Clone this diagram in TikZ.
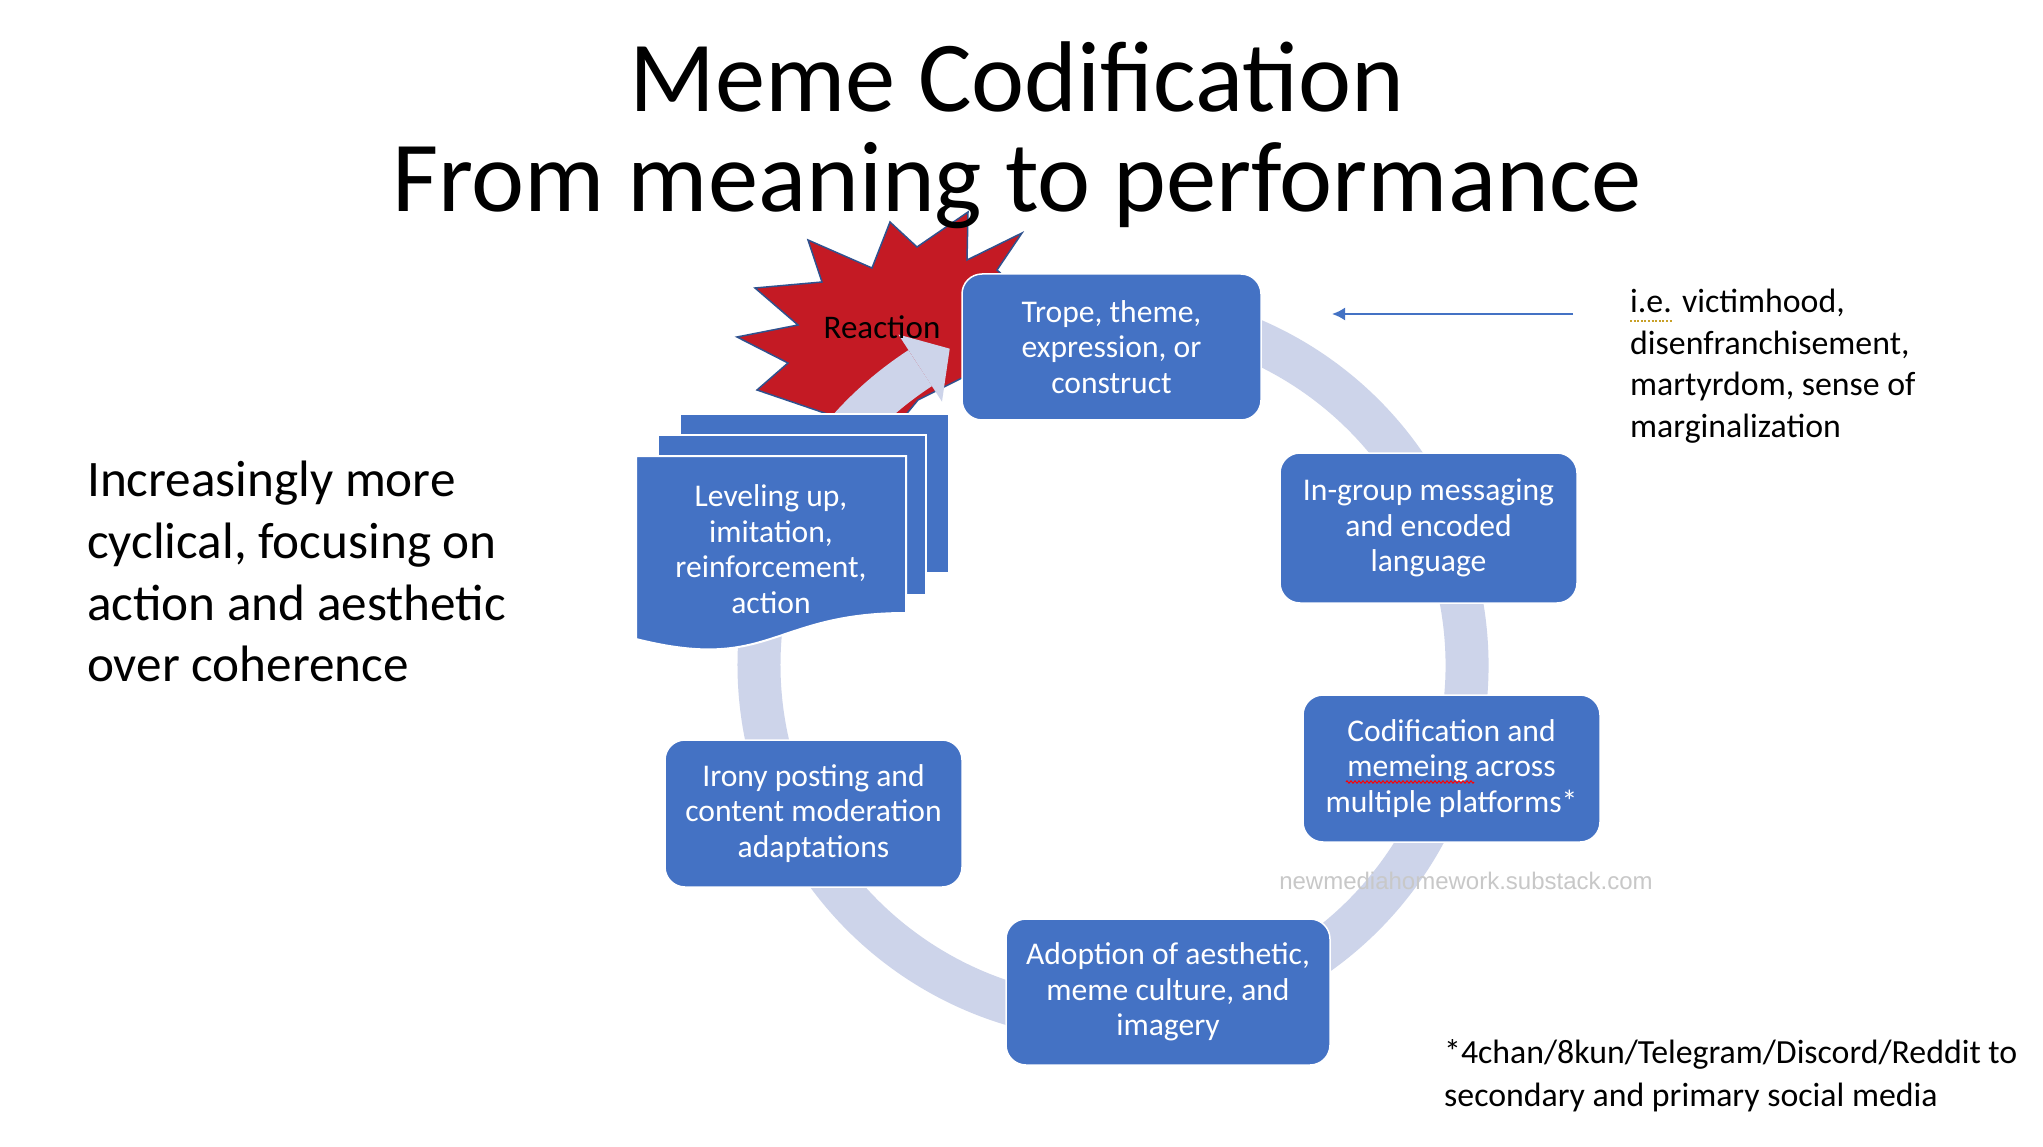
\documentclass[tikz,border=0pt]{standalone}
\usepackage{fontspec}
\setmainfont{Carlito}
\newfontfamily\creditfont{Liberation Sans}
\usepackage{xcolor}
\usetikzlibrary{arrows.meta, positioning, decorations.pathmorphing}

\definecolor{boxblue}{RGB}{68,114,196}
\definecolor{ringblue}{RGB}{205,212,234}
\definecolor{burstred}{RGB}{196,26,36}
\definecolor{burstline}{RGB}{47,82,143}
\definecolor{creditgray}{RGB}{200,200,200}
\definecolor{spellgold}{RGB}{200,160,40}

\begin{document}
\begin{tikzpicture}[
    x=1pt, y=-1pt,
    boxtext/.style={align=center, text=white, inner sep=0pt, font=\fontsize{31.6}{35.5}\selectfont},
    box/.style={boxtext, rectangle, draw=white, line width=1.5pt, fill=boxblue, rounded corners=20pt, minimum width=297pt, minimum height=147pt},
    page/.style={fill=boxblue, draw=white, line width=2pt},
    heading/.style={inner sep=0pt, font=\fontsize{100.5}{100}\selectfont},
    sidetext/.style={align=left, inner sep=0pt, anchor=north west, font=\fontsize{33.8}{42}\selectfont},
    ring/.style={draw=ringblue, line width=43pt},
    line/.style={draw=boxblue, line width=2pt, -{Latex[length=13pt,width=13pt]}}
]
    \fill[white] (0,0) rectangle (2043,1147);
    \useasboundingbox (0,0) rectangle (2043,1147);

    % Reaction burst
    \filldraw[fill=burstred, draw=burstline, line width=1.5pt]
        (737,337) -- (798,325) -- (755,288) -- (822,282) -- (808,240) -- (872,268)
        -- (890,222) -- (917,247) -- (968,212) -- (967,260) -- (1022,233) -- (997,270)
        -- (1030,300) -- (990,345) -- (1000,380) -- (962,378) -- (918,400) -- (885,440)
        -- (845,420) -- (757,390) -- (788,363) -- cycle;

    % Cycle ring
    \coordinate (hub) at (1113,665);
    \draw[ring, shift={(hub)}] (-100:354) arc[start angle=-100, end angle=237, radius=354];
    \fill[ringblue, shift={(hub)}] (-123:394) -- (-117.3:356) -- (-123:314) -- cycle;

    % Leveling stack
    \path[page] (680,414) rectangle (949,573);
    \path[page] (658,435) rectangle (926,595);
    \path[page] (636,456) -- (906,456) -- (906,613) .. controls (771,613) and (771,673) .. (636,639) -- cycle;

    % Nodes
    \node (reaction) [font=\fontsize{33}{40}\selectfont, inner sep=0pt] at (882,327) {Reaction};
    \node (trope) [box, minimum width=299pt, minimum height=146pt] at (1111.5,347) {Trope, theme,\\expression, or\\construct};
    \node (ingroup) [box, minimum height=150pt] at (1428.5,528) {In-group messaging\\and encoded\\language};
    \node (codify) [box] at (1451.5,768.5) {Codification and\\memeing across\\multiple platforms*};
    \node (adoption) [box, minimum width=324pt, minimum height=146pt] at (1168,992) {Adoption of aesthetic,\\meme culture, and\\imagery};
    \node (irony) [box] at (813.5,813.5) {Irony posting and\\content moderation\\adaptations};
    \node (leveling) [boxtext] at (771,549) {Leveling up,\\imitation,\\reinforcement,\\action};

    \node (credit) [font=\creditfont\fontsize{24}{28}\selectfont, text=creditgray, inner sep=0pt] at (1466,881) {newmediahomework.substack.com};

    \node (title) [heading, anchor=base] at (1017,112) {Meme Codification};
    \node (subtitle) [heading, anchor=base] at (1017,212) {From meaning to performance};

    \node (summary) [sidetext, font=\fontsize{51.2}{61.7}\selectfont] at (87,461) {Increasingly more\\cyclical, focusing on\\action and aesthetic\\over coherence};
    \node (note) [sidetext, font=\fontsize{33.8}{41.5}\selectfont] at (1630,289) {i.e. victimhood,\\disenfranchisement,\\martyrdom, sense of\\marginalization};
    \node (footnote) [sidetext, font=\fontsize{33.8}{43}\selectfont] at (1444,1039) {*4chan/8kun/Telegram/Discord/Reddit to\\secondary and primary social media};

    % spelling marks
    \draw[red, line width=1pt, decorate, decoration={zigzag, segment length=4pt, amplitude=1.2pt}] (1346,782) -- (1474,782);
    \draw[spellgold, line width=1.6pt, dash pattern=on 2pt off 1.6pt] (1630,321) -- (1672,321);

    % Paths
    \coordinate (from) at (1573,314);
    \coordinate (to) at (1332,314);
    \path [line] (from) -- (to);
\end{tikzpicture}
\end{document}
